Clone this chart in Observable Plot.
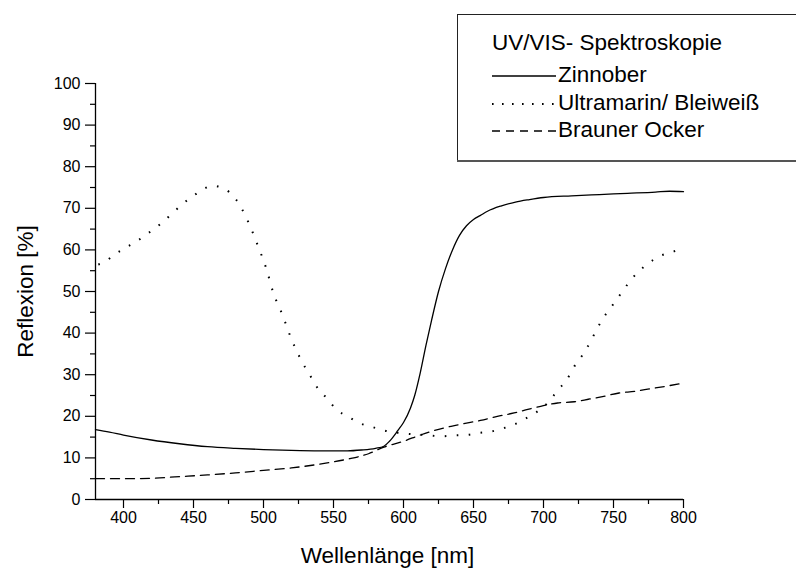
<!DOCTYPE html>
<html>
<head>
<meta charset="utf-8">
<script src="https://cdn.jsdelivr.net/npm/d3@7"></script>
<script src="https://cdn.jsdelivr.net/npm/@observablehq/plot@0.6"></script>
<style>
  body { margin: 0; background: #fff; }
  #wrap { position: relative; width: 796px; height: 569px; overflow: hidden; }
  #legend { position: absolute; left: 0; top: 0; pointer-events: none; }
</style>
</head>
<body>
<div id="wrap"></div>
<script>
const FONT = "Arial, 'Liberation Sans', sans-serif";

// Axis ticks
const xTicks = [400, 450, 500, 550, 600, 650, 700, 750, 800];
const yTicks = [0, 10, 20, 30, 40, 50, 60, 70, 80, 90, 100];
const xTitle = "Wellenlänge [nm]";
const yTitle = "Reflexion [%]";
const legendTitle = "UV/VIS- Spektroskopie";
const seriesNames = ["Zinnober", "Ultramarin/ Bleiweiß", "Brauner Ocker"];

// Zinnober (solid)
const zinnoberNm = [380, 390, 400, 420, 440, 460, 480, 500, 520, 540, 560, 570, 580, 586, 590, 596, 600, 605, 608, 612, 616, 620, 625, 630, 635, 640, 645, 650, 655, 660, 670, 680, 690, 700, 720, 740, 760, 780, 790, 800];
const zinnoberR  = [16.8, 16.2, 15.5, 14.3, 13.4, 12.7, 12.3, 12.0, 11.8, 11.7, 11.7, 11.9, 12.3, 12.8, 14.0, 16.6, 18.5, 22.0, 25.0, 30.5, 37.0, 43.0, 50.0, 55.5, 60.0, 63.5, 65.8, 67.3, 68.3, 69.3, 70.6, 71.5, 72.1, 72.6, 73.0, 73.3, 73.6, 73.9, 74.1, 74.0];

// Ultramarin / Bleiweiß (dotted)
const ultramarinNm = [382, 386, 394, 402, 410, 418, 426, 434, 442, 450, 456, 464, 472, 480, 489, 496, 502, 507, 514, 517, 520, 524, 528, 533, 538, 545, 552, 561, 569, 578, 586, 603, 615, 628, 636, 645, 654, 662, 670, 679, 687, 695, 704, 710, 717, 722, 728, 733, 737, 742, 748, 754, 760, 767, 775, 783, 791, 800];
const ultramarinR  = [56.5, 57.0, 59.0, 60.6, 62.2, 64.1, 66.1, 68.5, 71.0, 73.0, 74.4, 75.4, 74.7, 72.3, 66.8, 61.0, 55.5, 49.7, 44.0, 41.2, 38.5, 35.5, 32.8, 30.0, 27.1, 24.4, 21.7, 19.8, 18.3, 17.4, 16.6, 15.8, 15.5, 15.2, 15.4, 15.5, 16.0, 16.3, 17.0, 18.0, 19.4, 21.0, 23.6, 26.2, 29.0, 32.0, 34.8, 37.6, 40.2, 43.3, 46.1, 48.9, 51.7, 54.5, 56.8, 58.5, 59.4, 60.4];

// Brauner Ocker (dashed)
const ockerNm = [380, 400, 420, 440, 460, 480, 500, 520, 540, 560, 575, 586, 600, 612, 622, 634, 644, 655, 667, 679, 688, 698, 710, 722, 732, 743, 754, 765, 776, 787, 800];
const ockerR  = [5.0, 5.0, 5.1, 5.5, 5.9, 6.4, 7.0, 7.6, 8.5, 9.7, 11.0, 12.6, 14.0, 15.5, 16.6, 17.6, 18.3, 19.0, 20.0, 20.8, 21.6, 22.4, 23.2, 23.5, 24.1, 24.8, 25.6, 26.0, 26.6, 27.2, 28.0];

const toRows = (nm, r) => nm.map((x, i) => ({x, y: r[i]}));
const zinnober = toRows(zinnoberNm, zinnoberR);
const ultramarin = toRows(ultramarinNm, ultramarinR);
const ocker = toRows(ockerNm, ockerR);

const minorX = xTicks.slice(0, -1).map(t => t + 25);
const minorY = yTicks.slice(0, -1).map(t => t + 5);

const chart = Plot.plot({
  width: 796,
  height: 569,
  marginLeft: 95,
  marginRight: 113,
  marginTop: 83,
  marginBottom: 70,
  x: {domain: [380, 800]},
  y: {domain: [0, 100]},
  style: {fontFamily: FONT, fontSize: "16px", color: "#000", background: "#fff"},
  marks: [
    Plot.axisY({ticks: yTicks, tickSize: 10, tickPadding: 5, label: null, strokeWidth: 1.2}),
    Plot.axisY({ticks: minorY, tickSize: 5, text: null, label: null, strokeWidth: 1.2}),
    Plot.axisX({ticks: xTicks, tickSize: 9, tickPadding: 3, label: null, strokeWidth: 1.2}),
    Plot.axisX({ticks: minorX, tickSize: 5, text: null, label: null, strokeWidth: 1.2}),
    Plot.ruleX([380], {strokeWidth: 1.3}),
    Plot.ruleY([0], {strokeWidth: 1.3}),
    Plot.line(zinnober, {x: "x", y: "y", stroke: "#000", strokeWidth: 1.3, curve: "monotone-x"}),
    Plot.line(ultramarin, {x: "x", y: "y", stroke: "#000", strokeWidth: 2, strokeDasharray: "1.6 10.4", strokeLinecap: "butt", curve: "monotone-x"}),
    Plot.line(ocker, {x: "x", y: "y", stroke: "#000", strokeWidth: 1.3, strokeDasharray: "9 6", curve: "monotone-x"}),
    Plot.text([xTitle], {frameAnchor: "bottom", dy: 56, dx: -2, textAnchor: "middle", lineAnchor: "middle", fontSize: 22.5}),
    Plot.text([yTitle], {frameAnchor: "left", dx: -70, rotate: -90, textAnchor: "middle", lineAnchor: "middle", fontSize: 22.5})
  ]
});

const wrap = document.getElementById("wrap");
wrap.appendChild(chart);

// Legend overlay
const leg = d3.create("svg").attr("id", "legend").attr("width", 796).attr("height", 569)
  .style("font-family", FONT).style("font-size", "22.5px");
leg.append("rect").attr("x", 457.5).attr("y", 14.5).attr("width", 400).attr("height", 146)
  .attr("fill", "#fff").attr("stroke", "#222").attr("stroke-width", 1);
leg.append("line").attr("x1", 457).attr("x2", 796).attr("y1", 161).attr("y2", 161)
  .attr("stroke", "#555").attr("stroke-width", 2);
leg.append("text").attr("x", 492).attr("y", 50).text(legendTitle);
const rowBase = [82, 110, 137];
const dashes = [null, "1.6 8.4", "8 6"];
const widths = [1.3, 2, 1.3];
seriesNames.forEach((name, i) => {
  const ln = leg.append("line").attr("x1", 492).attr("x2", 556)
    .attr("y1", rowBase[i] - 6).attr("y2", rowBase[i] - 6)
    .attr("stroke", "#000").attr("stroke-width", widths[i]);
  if (dashes[i]) ln.attr("stroke-dasharray", dashes[i]);
  leg.append("text").attr("x", 558).attr("y", rowBase[i]).text(name);
});
wrap.appendChild(leg.node());
</script>
</body>
</html>
